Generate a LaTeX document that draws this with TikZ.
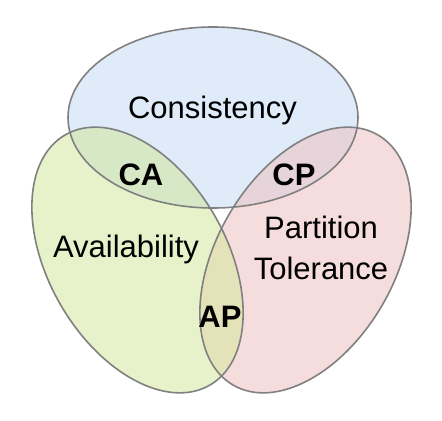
\documentclass[tikz,border=0pt]{standalone}
\usepackage{fontspec}
\setmainfont{Liberation Sans}
\begin{document}
\begin{tikzpicture}[x=1bp,y=1bp,
  setfill/.style={fill opacity=0.5},
  setline/.style={draw=black!50, line width=1.6bp},
  lbl/.style={font=\fontsize{31bp}{41bp}\selectfont, align=center, inner sep=0pt},
  blbl/.style={font=\fontsize{31bp}{36bp}\selectfont\bfseries, inner sep=0pt}]
\useasboundingbox (0,0) rectangle (442,420);
\definecolor{cblue}{HTML}{C1D9F5}
\definecolor{cgreen}{HTML}{D1E797}
\definecolor{cpink}{HTML}{EFBDBD}
\fill[white] (0,0) rectangle (442,420);
\fill[setfill, cblue] (213,302.5) ellipse [x radius=145, y radius=90.5];
\fill[setfill, cpink, rotate around={60:(305.5,160)}] (305.5,160) ellipse [x radius=144.5, y radius=89];
\fill[setfill, cgreen, rotate around={-60:(137.5,160)}] (137.5,160) ellipse [x radius=144.5, y radius=89];
\draw[setline] (213,302.5) ellipse [x radius=145, y radius=90.5];
\draw[setline, rotate around={60:(305.5,160)}] (305.5,160) ellipse [x radius=144.5, y radius=89];
\draw[setline, rotate around={-60:(137.5,160)}] (137.5,160) ellipse [x radius=144.5, y radius=89];
\node[lbl] (c) at (212.5,310) {Consistency};
\node[lbl] (a) at (126,171) {Availability};
\node[lbl] (p) at (321,172) {Partition\\Tolerance};
\node[blbl] (ca) at (141,245.5) {CA};
\node[blbl] (cp) at (294,245.5) {CP};
\node[blbl] (ap) at (220,103) {AP};
\end{tikzpicture}
\end{document}
